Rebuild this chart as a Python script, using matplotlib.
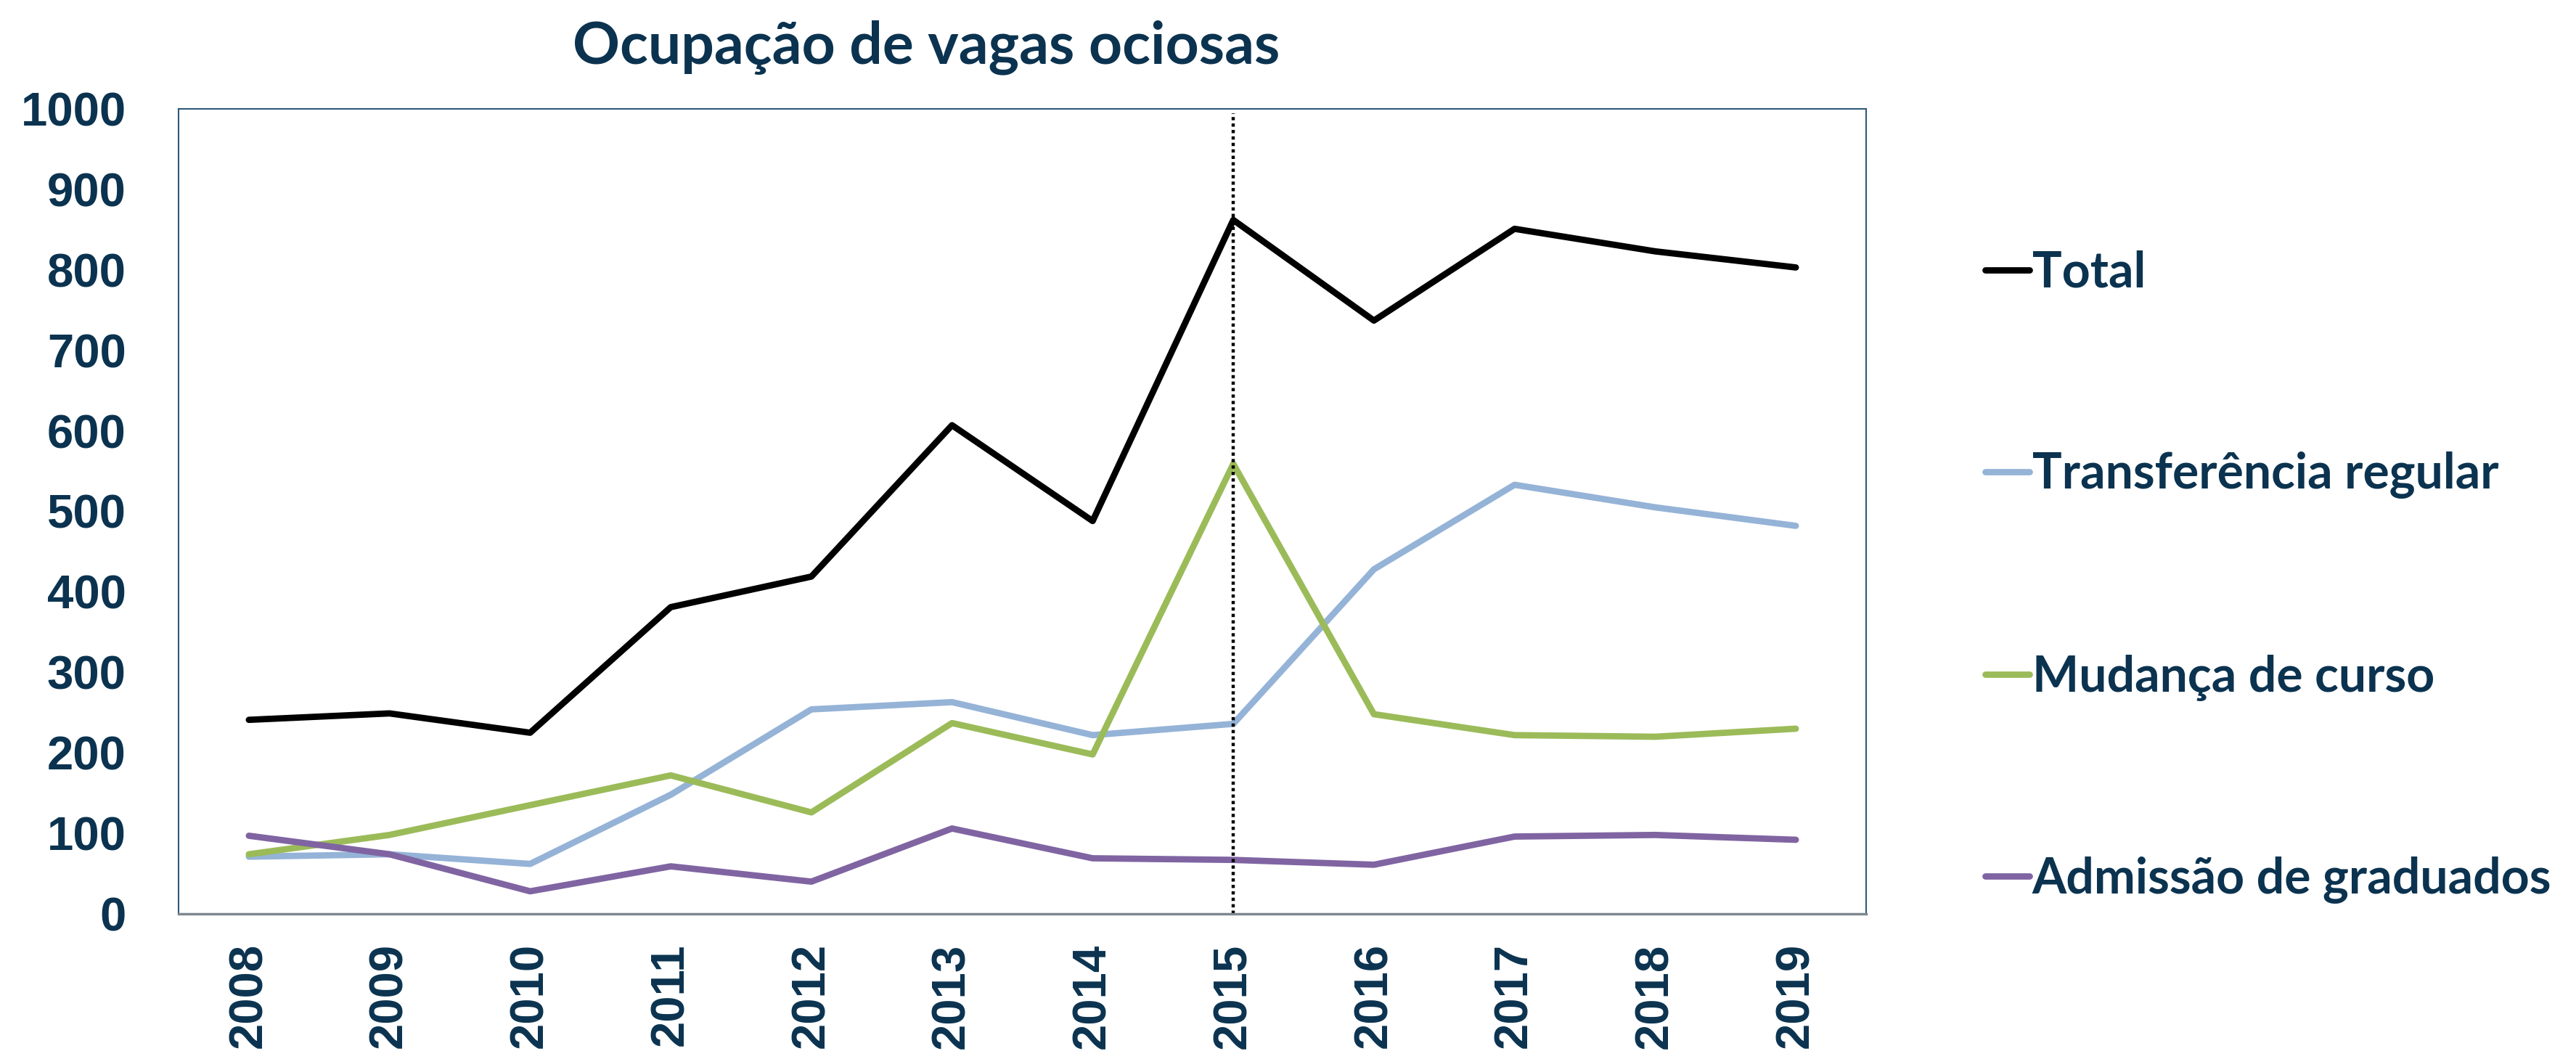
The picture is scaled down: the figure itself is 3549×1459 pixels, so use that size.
import matplotlib
matplotlib.use("Agg")
import matplotlib.pyplot as plt

years = ["2008", "2009", "2010", "2011", "2012", "2013", "2014", "2015", "2016", "2017", "2018", "2019"]
total = [241, 249, 225, 381, 419, 607, 488, 862, 737, 851, 823, 803]
transferencia = [71, 74, 62, 148, 254, 263, 222, 236, 428, 533, 505, 482]
mudanca = [74, 98, 135, 172, 126, 237, 198, 559, 248, 222, 220, 230]
admissao = [97, 74, 28, 59, 40, 106, 69, 67, 61, 96, 98, 92]
series_names = ["Total", "Transferência regular", "Mudança de curso", "Admissão de graduados"]
title = "Ocupação de vagas ociosas"
marker_year = "2015"
yticks = [0, 100, 200, 300, 400, 500, 600, 700, 800, 900, 1000]

navy = "#0B3350"
colors = ["#000000", "#95B3D7", "#9BBB59", "#8064A2"]

fig = plt.figure(figsize=(35.49, 14.59), dpi=100)
L, R, T, B = 246, 2571, 150, 1259
ax = fig.add_axes([L / 3549, 1 - B / 1459, (R - L) / 3549, (B - T) / 1459])

x = list(range(len(years)))
for vals, name, c in zip([total, transferencia, mudanca, admissao], series_names, colors):
    ax.plot(x, vals, color=c, lw=6.3, label=name, solid_capstyle="round", solid_joinstyle="round")

ax.axvline(years.index(marker_year), color="black", lw=3.2, linestyle=(0, (1, 1)), ymax=0.995)

ax.set_xlim(-0.5, len(years) - 0.5)
ax.set_ylim(0, 1000)
ax.set_yticks(yticks)
ax.set_yticklabels([str(v) for v in yticks], fontfamily="Liberation Sans", fontweight="bold",
                   fontsize=47, color=navy)
ax.set_xticks(x)
ax.set_xticklabels(years, rotation=90, fontfamily="Liberation Sans", fontweight="bold",
                   fontsize=47, color=navy)
ax.tick_params(axis="both", length=0)
ax.tick_params(axis="y", pad=52)
ax.tick_params(axis="x", pad=29)
for s in ["left", "top", "right"]:
    ax.spines[s].set_color("#2E5A78")
    ax.spines[s].set_linewidth(1.5)
ax.spines["bottom"].set_color("#7F8890")
ax.spines["bottom"].set_linewidth(2.5)

fig.text(1276 / 3549, 1 - 87 / 1459, title, ha="center", va="baseline", fontfamily="Lato",
         fontweight="bold", fontsize=58, color=navy)

leg = ax.legend(loc="upper left", bbox_to_anchor=(2735 / 3549, 1 - 345 / 1459),
                bbox_transform=fig.transFigure, frameon=False,
                prop={"family": "Lato", "weight": "bold", "size": 49},
                labelcolor=navy, handlelength=0.9, handletextpad=0.05,
                labelspacing=3.15, borderpad=0, borderaxespad=0)

fig.savefig("out.png", dpi=100)
